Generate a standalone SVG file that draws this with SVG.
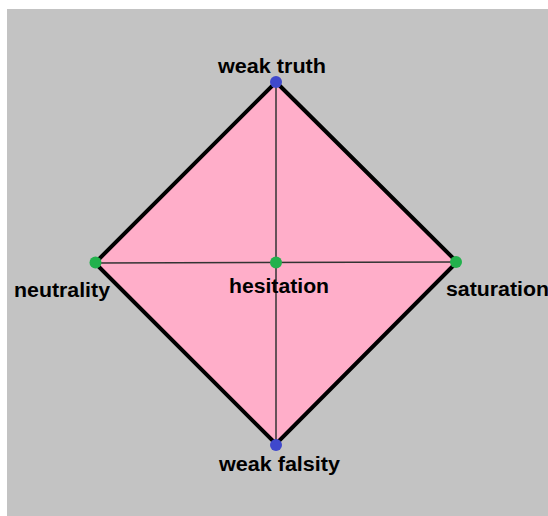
<svg xmlns="http://www.w3.org/2000/svg" width="548" height="516" viewBox="0 0 548 516">
<style>
.lbl{font-family:"Liberation Sans",Arial,sans-serif;font-weight:bold;font-size:19.5px;fill:#000}
.axis{stroke:#333;stroke-width:1.5;fill:none}
.blue{fill:#3F48CC}
.green{fill:#22B14C}
</style>
<rect x="0" y="0" width="548" height="516" fill="#fff"/>
<rect x="7" y="9" width="541" height="507" fill="#C3C3C3"/>
<g id="diamond">
<polygon points="276,82 457,262 276,444 95,263" fill="#FFAEC9" stroke="#000" stroke-width="4" stroke-linejoin="miter"/>
</g>
<g id="connectors">
<line class="axis" x1="276" y1="82" x2="276" y2="444"/>
<line class="axis" x1="95" y1="263" x2="457" y2="262"/>
</g>
<g id="weak-truth"><circle class="blue" cx="276" cy="82" r="6"/><text class="lbl" x="218" y="73" textLength="108" lengthAdjust="spacingAndGlyphs">weak truth</text></g>
<g id="weak-falsity"><circle class="blue" cx="276" cy="445" r="6"/><text class="lbl" x="219" y="471" textLength="121" lengthAdjust="spacingAndGlyphs">weak falsity</text></g>
<g id="neutrality"><circle class="green" cx="95.5" cy="262.5" r="6"/><text class="lbl" x="14" y="297" textLength="96" lengthAdjust="spacingAndGlyphs">neutrality</text></g>
<g id="saturation"><circle class="green" cx="456" cy="262" r="6"/><text class="lbl" x="446" y="296" textLength="103" lengthAdjust="spacingAndGlyphs">saturation</text></g>
<g id="hesitation"><circle class="green" cx="276" cy="262.5" r="6"/><text class="lbl" x="229" y="293" textLength="100" lengthAdjust="spacingAndGlyphs">hesitation</text></g>
</svg>
